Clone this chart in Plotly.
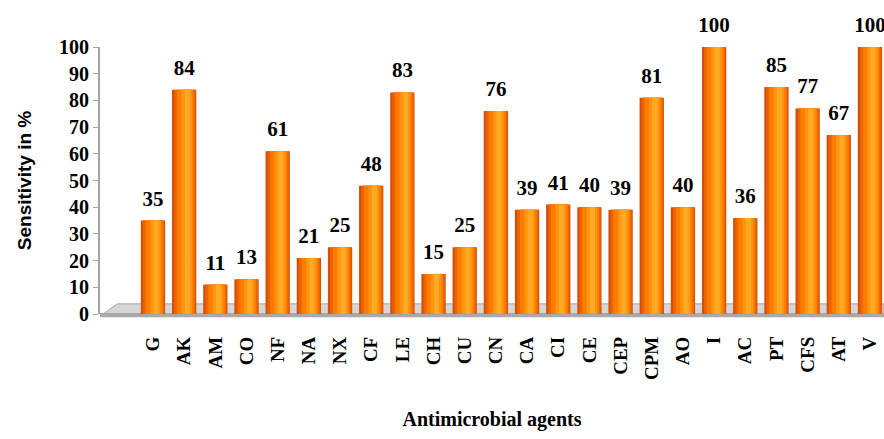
import plotly.graph_objects as go

categories = ["G", "AK", "AM", "CO", "NF", "NA", "NX", "CF", "LE", "CH", "CU", "CN",
              "CA", "CI", "CE", "CEP", "CPM", "AO", "I", "AC", "PT", "CFS", "AT", "V"]
sensitivity = [35, 84, 11, 13, 61, 21, 25, 48, 83, 15, 25, 76,
               39, 41, 40, 39, 81, 40, 100, 36, 85, 77, 67, 100]
y_ticks = [0, 10, 20, 30, 40, 50, 60, 70, 80, 90, 100]

SERIF = "Liberation Serif, Times New Roman, serif"
SANS = "Liberation Sans, Arial, sans-serif"

fig = go.Figure()

# cylinder shading layers (widths / offsets in category units)
layers = [
    (0.78, 0.00, "#D4500A"),
    (0.68, 0.02, "#EC6400"),
    (0.54, 0.04, "#FF7C00"),
    (0.34, 0.08, "#FF9510"),
    (0.16, 0.10, "#FFAA25"),
]
for i, (w, shift, col) in enumerate(layers):
    fig.add_trace(go.Bar(
        x=categories, y=sensitivity,
        width=w, offset=-w / 2 + shift,
        marker=dict(color=col, line=dict(width=0)),
        cliponaxis=False,
        hoverinfo="skip" if i else None,
        showlegend=False,
    ))

# value labels above the bars
fig.add_trace(go.Scatter(
    x=categories, y=sensitivity,
    mode="markers+text",
    marker=dict(size=14, opacity=0),
    text=[str(v) for v in sensitivity],
    textposition="top center",
    textfont=dict(family=SERIF, size=21, color="black", weight="bold"),
    cliponaxis=False,
    hoverinfo="skip",
    showlegend=False,
))

fig.update_layout(
    width=884, height=439,
    margin=dict(l=100, r=0, t=47, b=125),
    paper_bgcolor="white", plot_bgcolor="white",
    barmode="overlay",
    shapes=[
        # floor top face
        dict(type="path", xref="paper", yref="paper",
             path="M 0.004 0.0 L 0.022 0.038 L 1.0 0.038 L 1.0 0.0 Z",
             fillcolor="#D6D6D6", line=dict(color="#A8A8A8", width=1), layer="below"),
        # floor front strip
        dict(type="rect", xref="paper", yref="paper",
             x0=0.0, x1=1.0, y0=-0.012, y1=0.004,
             fillcolor="#A9A9A9", line=dict(width=0), layer="below"),
    ],
    xaxis=dict(
        type="category", range=[-1.7, 23.45],
        showline=False, showgrid=False, zeroline=False,
        ticks="", tickangle=-90, ticklabelstandoff=18,
        tickfont=dict(family=SERIF, size=19, color="black", weight="bold"),
        title=dict(text="Antimicrobial agents", standoff=32,
                   font=dict(family=SERIF, size=20, color="black", weight="bold")),
    ),
    yaxis=dict(
        range=[0, 100], tickvals=y_ticks, ticktext=[str(t) for t in y_ticks],
        showline=True, linecolor="#A6A6A6", linewidth=2,
        ticks="outside", ticklen=5, tickcolor="#A6A6A6",
        showgrid=False, zeroline=False,
        tickfont=dict(family=SERIF, size=20, color="black", weight="bold"),
        title=dict(text="Sensitivity in %", standoff=22,
                   font=dict(family=SANS, size=19, color="black", weight="bold")),
    ),
)

fig.write_html("out.html", config={"displayModeBar": False},
               post_script="document.body.style.margin='0';document.body.style.overflow='hidden';")
